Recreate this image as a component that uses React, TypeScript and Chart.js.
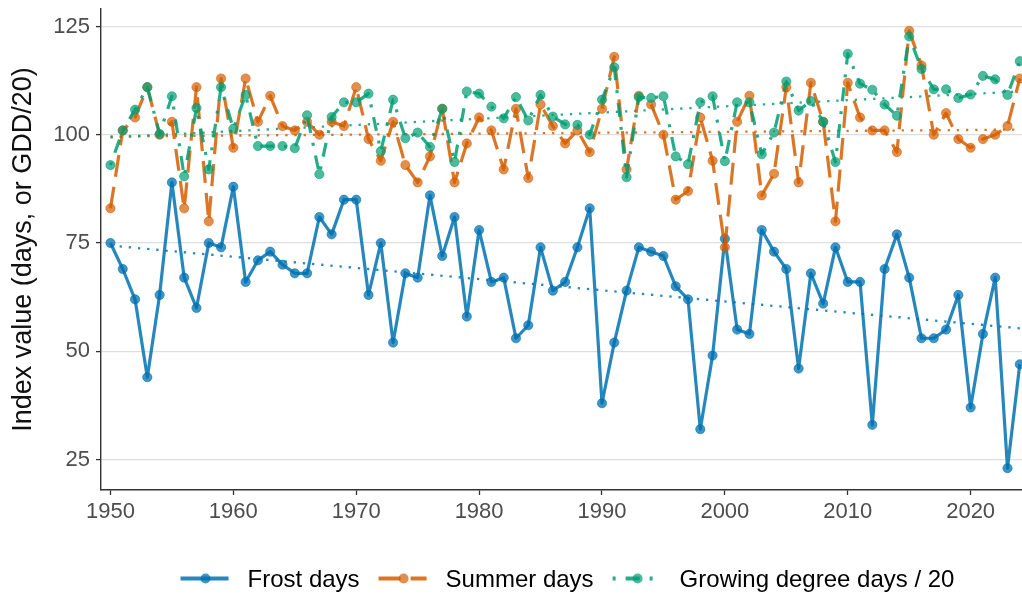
import React, { useEffect, useRef } from "react";
import { Chart, registerables } from "chart.js";

Chart.register(...registerables);

const years = [
  1950, 1951, 1952, 1953, 1954, 1955, 1956, 1957, 1958, 1959,
  1960, 1961, 1962, 1963, 1964, 1965, 1966, 1967, 1968, 1969,
  1970, 1971, 1972, 1973, 1974, 1975, 1976, 1977, 1978, 1979,
  1980, 1981, 1982, 1983, 1984, 1985, 1986, 1987, 1988, 1989,
  1990, 1991, 1992, 1993, 1994, 1995, 1996, 1997, 1998, 1999,
  2000, 2001, 2002, 2003, 2004, 2005, 2006, 2007, 2008, 2009,
  2010, 2011, 2012, 2013, 2014, 2015, 2016, 2017, 2018, 2019,
  2020, 2021, 2022, 2023, 2024,
];

const frostDays = [
  75, 69, 62, 44, 63, 89, 67, 60, 75, 74,
  88, 66, 71, 73, 70, 68, 68, 81, 77, 85,
  85, 63, 75, 52, 68, 67, 86, 72, 81, 58,
  78, 66, 67, 53, 56, 74, 64, 66, 74, 83,
  38, 52, 64, 74, 73, 72, 65, 62, 32, 49,
  76, 55, 54, 78, 73, 69, 46, 68, 61, 74,
  66, 66, 33, 69, 77, 67, 53, 53, 55, 63,
  37, 54, 67, 23, 47,
];

const summerDays = [
  83, 101, 104, 111, 100, 103, 83, 111, 80, 113,
  97, 113, 103, 109, 102, 101, 103, 100, 103, 102,
  111, 99, 94, 103, 93, 89, 95, 106, 89, 98,
  104, 101, 92, 106, 90, 107, 102, 98, 101, 96,
  106, 118, 92, 109, 107, 100, 85, 87, 104, 94,
  74, 103, 109, 86, 91, 111, 89, 112, 103, 80,
  112, 104, 101, 101, 96, 124, 116, 100, 105, 99,
  97, 99, 100, 102, 113,
];

const gddOver20 = [
  93, 101, 105.8, 111, 100.2, 108.9, 90.4, 106.2, 92, 111,
  101.4, 109.2, 97.4, 97.4, 97.4, 96.9, 104.5, 90.9, 104.1, 107.5,
  107.5, 109.5, 96.2, 108.1, 99.2, 100.5, 97.2, 106, 93.7, 110,
  109.5, 106.5, 103.8, 108.7, 103.3, 109.2, 104.2, 102.4, 102.3, 100,
  108.1, 115.6, 90.2, 108.7, 108.5, 108.9, 95, 93.2, 107.5, 108.9,
  93.9, 107.5, 107.5, 95.5, 100.5, 112.3, 105.6, 107.8, 103, 93.7,
  118.7, 111.8, 110.4, 107, 104.4, 122.7, 115.2, 110.5, 110.5, 108.5,
  109.3, 113.6, 112.8, 109.2, 117,
];

// Linear trend lines at both ends
const trendYears = [1950, 2024];
const frostTrend = [74.4, 55.3];
const summerTrend = [99.6, 101.2];
const gddTrend = [99.4, 110.0];

const xTickValues = [1950, 1960, 1970, 1980, 1990, 2000, 2010, 2020];
const yTickValues = [25, 50, 75, 100, 125];

const seriesLabels = ["Frost days", "Summer days", "Growing degree days / 20"];

const FONT = "'Liberation Sans', Arial, Helvetica, sans-serif";
const BLUE = "rgba(0,114,178,0.85)";
const BLUE_PT = "rgba(0,114,178,0.75)";
const ORANGE = "rgba(213,94,0,0.85)";
const ORANGE_PT = "rgba(213,94,0,0.7)";
const GREEN = "rgba(0,158,115,0.85)";
const GREEN_PT = "rgba(0,158,115,0.7)";

const LW = 3.2;
const DASH_LONG = [22, 10];
const DASH_DOTDASH = [3, 10, 14, 10];
const DASH_DOT = [2.3, 6.9];

const pts = (xs: number[], ys: number[]) => xs.map((x, i) => ({ x, y: ys[i] }));

const legendPlugin = {
  id: "bottomLegend",
  afterDraw(chart: any) {
    const ctx = chart.ctx as CanvasRenderingContext2D;
    const items = [
      { label: seriesLabels[0], line: BLUE, pt: BLUE_PT, dash: [] as number[] },
      { label: seriesLabels[1], line: ORANGE, pt: ORANGE_PT, dash: DASH_LONG },
      { label: seriesLabels[2], line: GREEN, pt: GREEN_PT, dash: DASH_DOTDASH },
    ];
    const sampleW = 48;
    const gapText = 19;
    const gapItem = 19;
    ctx.save();
    ctx.font = `24px ${FONT}`;
    const widths = items.map((it) => ctx.measureText(it.label).width);
    let total = 0;
    widths.forEach((w, i) => {
      total += sampleW + gapText + w + (i < items.length - 1 ? gapItem : 0);
    });
    let x = 567.5 - total / 2;
    const cy = 578.5;
    items.forEach((it, i) => {
      ctx.save();
      ctx.beginPath();
      ctx.setLineDash(it.dash);
      ctx.lineCap = "butt";
      ctx.lineWidth = 4;
      ctx.strokeStyle = it.line;
      ctx.moveTo(x, cy);
      ctx.lineTo(x + sampleW, cy);
      ctx.stroke();
      ctx.setLineDash([]);
      ctx.beginPath();
      ctx.fillStyle = it.pt;
      ctx.arc(x + sampleW / 2 + 1, cy, 5, 0, Math.PI * 2);
      ctx.fill();
      ctx.restore();
      ctx.fillStyle = "#000";
      ctx.textAlign = "left";
      ctx.textBaseline = "alphabetic";
      ctx.fillText(it.label, x + sampleW + gapText, cy + 8.5);
      x += sampleW + gapText + widths[i] + gapItem;
    });
    ctx.restore();
  },
};

export default function App() {
  const ref = useRef<HTMLCanvasElement | null>(null);

  useEffect(() => {
    if (!ref.current) return;
    const pointOpts = (bg: string) => ({
      pointRadius: 4.6,
      pointBackgroundColor: bg,
      pointBorderColor: bg,
      pointBorderWidth: 0.8,
      pointHoverRadius: 4.6,
    });
    const trendOpts = (color: string) => ({
      borderColor: color,
      borderWidth: 2.3,
      borderDash: DASH_DOT,
      borderCapStyle: "butt" as const,
      pointRadius: 0,
      fill: false,
      tension: 0,
    });
    const chart = new Chart(ref.current, {
      type: "line",
      data: {
        datasets: [
          {
            label: seriesLabels[2],
            data: pts(years, gddOver20),
            borderColor: GREEN,
            borderWidth: LW,
            borderDash: DASH_DOTDASH,
            borderCapStyle: "butt",
            borderJoinStyle: "round",
            order: 0,
            ...pointOpts(GREEN_PT),
          },
          {
            label: seriesLabels[1],
            data: pts(years, summerDays),
            borderColor: ORANGE,
            borderWidth: LW,
            borderDash: DASH_LONG,
            borderCapStyle: "butt",
            borderJoinStyle: "round",
            order: 1,
            ...pointOpts(ORANGE_PT),
          },
          {
            label: seriesLabels[0],
            data: pts(years, frostDays),
            borderColor: BLUE,
            borderWidth: LW,
            borderJoinStyle: "round",
            order: 2,
            ...pointOpts(BLUE_PT),
          },
          { label: "gddTrend", data: pts(trendYears, gddTrend), order: 3, ...trendOpts(GREEN) },
          { label: "summerTrend", data: pts(trendYears, summerTrend), order: 4, ...trendOpts(ORANGE) },
          { label: "frostTrend", data: pts(trendYears, frostTrend), order: 5, ...trendOpts(BLUE) },
        ] as any,
      },
      plugins: [legendPlugin],
      options: {
        animation: false,
        responsive: false,
        devicePixelRatio: 1,
        layout: { autoPadding: false, padding: { top: 9, left: 0, right: 0, bottom: 0 } },
        plugins: {
          legend: { display: false },
          tooltip: { enabled: false },
        },
        elements: { line: { tension: 0 } },
        scales: {
          x: {
            type: "linear",
            min: 1949.23,
            max: 2024.18,
            afterBuildTicks: (s: any) => {
              s.ticks = xTickValues.map((v) => ({ value: v }));
            },
            afterFit: (s: any) => {
              s.height = 104;
              s.paddingLeft = 0;
              s.paddingRight = 0;
            },
            grid: {
              display: true,
              drawOnChartArea: false,
              drawTicks: true,
              tickLength: 5,
              tickColor: "#333333",
              tickWidth: 1.3,
            },
            border: { display: true, color: "#333333", width: 1.4 },
            ticks: {
              autoSkip: false,
              maxRotation: 0,
              padding: 4,
              color: "#4d4d4d",
              font: { family: FONT, size: 22 },
              callback: (v: any) => String(v),
            },
          },
          y: {
            type: "linear",
            min: 17.95,
            max: 129.05,
            afterBuildTicks: (s: any) => {
              s.ticks = yTickValues.map((v) => ({ value: v }));
            },
            afterFit: (s: any) => {
              s.width = 101;
              s.paddingTop = 0;
              s.paddingBottom = 0;
            },
            grid: {
              color: "#dedede",
              lineWidth: 1.2,
              drawTicks: true,
              tickLength: 5,
              tickColor: "#333333",
              tickWidth: 1.3,
            },
            border: { display: true, color: "#333333", width: 1.4 },
            ticks: {
              padding: 6,
              color: "#4d4d4d",
              font: { family: FONT, size: 22 },
              callback: (v: any) => String(v),
            },
            title: {
              display: true,
              text: "Index value (days, or GDD/20)",
              color: "#111111",
              font: { family: FONT, size: 27 },
              padding: { top: 7, bottom: 0 },
            },
          },
        },
      } as any,
    });
    return () => chart.destroy();
  }, []);

  return (
    <div style={{ position: "fixed", left: 0, top: 0, width: 1022, height: 594, background: "#fff" }}>
      <canvas ref={ref} width={1022} height={594} style={{ display: "block", width: 1022, height: 594 }} />
    </div>
  );
}
